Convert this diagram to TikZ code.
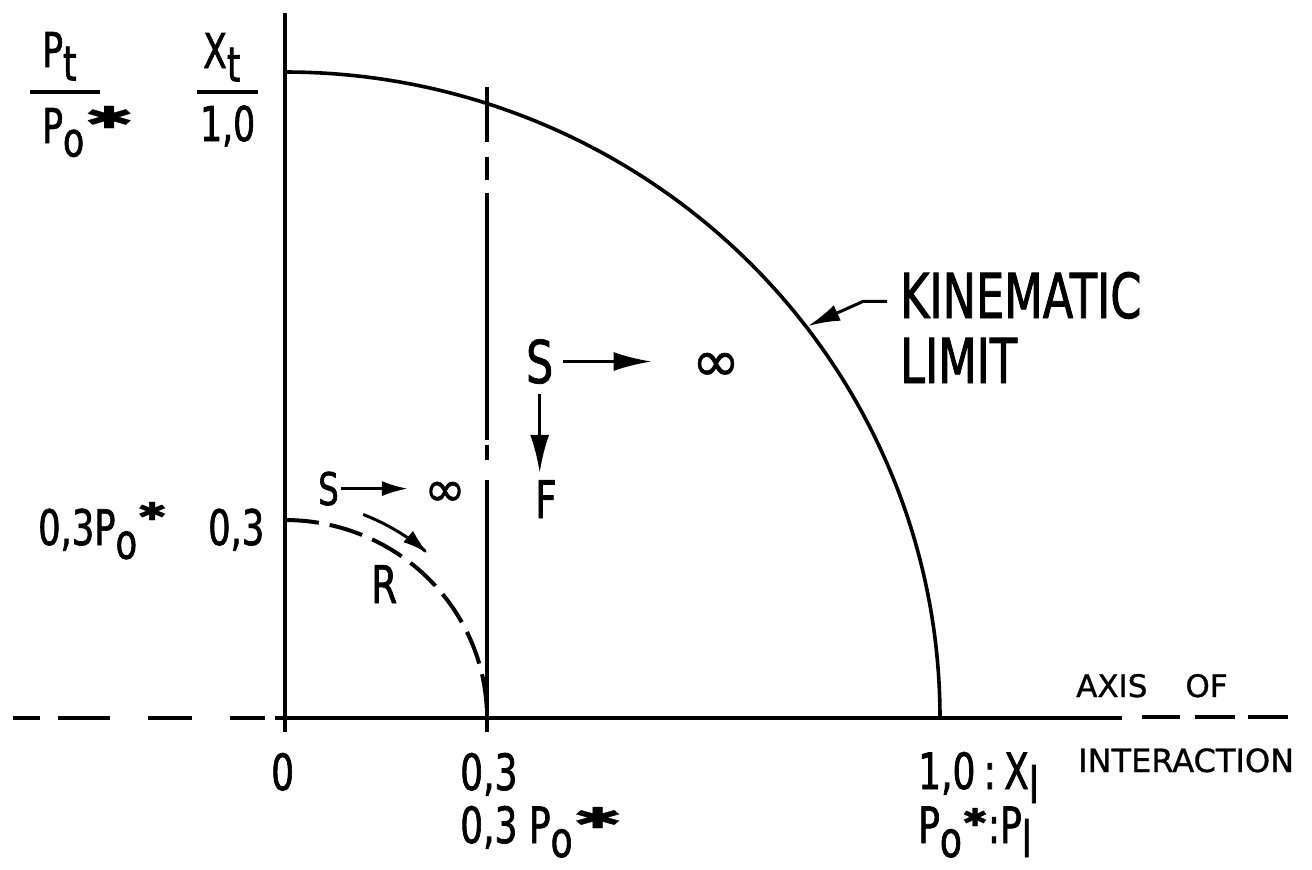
\documentclass[tikz,border=0pt]{standalone}
\usepackage{fontspec}
\usepackage{graphicx}
\setmainfont[FakeStretch=0.72,FakeBold=1.3]{DejaVu Sans}
\newfontfamily\widefont[FakeBold=1.0]{DejaVu Sans}
\usetikzlibrary{arrows.meta}
\newcommand\myfs[1]{\fontsize{#1}{#1}\selectfont}
\newcommand\lowr[1]{\raisebox{-0.28em}{#1}}
\newcommand\pstar[3]{\raisebox{#3}{\resizebox{#1}{#2}{\widefont ✱}}}
\begin{document}
\begin{tikzpicture}[x=1pt,y=-1pt,
  axisline/.style={line width=4pt},
  curveline/.style={line width=3.6pt, line join=round},
  fracline/.style={line width=3.2pt},
  lbl/.style={inner sep=0pt, anchor=base west, font=\myfs{50}},
  smalllbl/.style={inner sep=0pt, anchor=base west, font=\widefont\myfs{31}},
  infty/.style={inner sep=0pt, anchor=center},
  arr/.style={line width=3pt, -{Latex[length=38pt,width=19pt]}},
  arrsm/.style={line width=3pt, -{Latex[length=26pt,width=15pt]}},
]
\useasboundingbox (0,0) rectangle (1312,870);

% axes
\draw[axisline] (285,13) -- (285,732);
\draw[axisline] (275,718) -- (1122,718);
\draw[axisline] (13,718) -- (40,718) (58,718) -- (110,718) (148,718) -- (192,718) (230,718) -- (265,718);
\draw[axisline] (1142,717) -- (1180,717) (1195,717) -- (1235,717) (1248,717) -- (1288,717);

% dash-dot line at 0.3
\draw[line width=3.4pt] (487,87) -- (487,142) (487,157) -- (487,180) (487,193) -- (487,440) (487,445) -- (487,460) (487,480) -- (487,732);

% kinematic limit
\draw[curveline] plot[domain=0:90,samples=91,smooth] ({285+655*cos(\x)},{718-646*sin(\x)});

% small dashed quarter
\draw[curveline, line width=4pt, dash pattern=on 34pt off 11pt] plot[domain=90:0,samples=60,smooth] ({285+202*cos(\x)},{718-198*sin(\x)});

% curved arrow
\draw[arrsm] plot[domain=69:49,samples=20,smooth] ({285+218*cos(\x)},{718-218*sin(\x)});

% fraction labels
\node[lbl, font=\myfs{48}] (pt) at (42,67) {P\lowr{t}};
\draw[fracline] (30,92) -- (100,92);
\node[lbl, font=\myfs{48}] (po) at (42,143) {P\lowr{o}\pstar{50pt}{22pt}{15pt}};
\node[lbl, font=\myfs{48}] (xt) at (203,68) {X\lowr{t}};
\draw[fracline] (197,92) -- (258,92);
\node[lbl, font=\myfs{48}] (one) at (200,141) {1,0};

% left 0.3 labels
\node[lbl, font=\myfs{49}] (l03p) at (38,545) {0,3P\lowr{o}\pstar{30pt}{18pt}{25pt}};
\node[lbl, font=\myfs{49}] (l03) at (208,545) {0,3};

% bottom labels
\node[lbl] (b0) at (271,790) {0};
\node[lbl] (b03) at (460,790) {0,3};
\node[lbl] (b03p) at (460,843) {0,3 P\lowr{o}\pstar{50pt}{21pt}{15pt}};
\node[lbl] (b10) at (918,789) {1,0\,:\,X\lowr{l}};
\node[lbl] (bpp) at (918,843) {P\lowr{o}\pstar{26pt}{18pt}{17pt}:P\lowr{l}};

% small S -> infinity
\node[lbl, font=\myfs{45}] (ss) at (318,505) {S};
\node[infty, font=\widefont\myfs{50}] (sinf) at (445,494) {∞};
\draw[arrsm, shorten <=2pt, shorten >=16pt] (ss.east) -- (ss.east -| sinf.west);

\node[lbl, font=\myfs{52}] (r) at (371,603) {R};

% big S -> infinity, S -> F
\node[lbl, font=\myfs{59}] (bs) at (526,383) {S};
\node[infty, font=\widefont\myfs{58}] (binf) at (716,367) {∞};
\draw[arr, shorten <=10pt, shorten >=40pt] (bs.east) -- (bs.east -| binf.west);
\node[lbl, font=\myfs{52}] (bf) at (535,518) {F};
\draw[arr, shorten <=10pt, shorten >=7pt] (bs.south) -- (bs.south |- bf.north);

% kinematic limit label
\node[lbl, font=\myfs{62}] (kin) at (900,318) {KINEMATIC};
\node[lbl, font=\myfs{62}] (lim) at (900,383) {LIMIT};
\coordinate (kt) at (808,326);
\draw[line width=3pt, -{Latex[length=32pt,width=17pt]}] ([xshift=-13pt,yshift=-6pt]kin.west) -- ++(-24,0) -- (kt);

% axis of interaction
\node[smalllbl] (axof) at (1076,697) {AXIS\hspace{38pt}OF};
\node[smalllbl, font=\widefont\myfs{32}] (inter) at (1078,772) {INTERACTION};
\end{tikzpicture}
\end{document}
